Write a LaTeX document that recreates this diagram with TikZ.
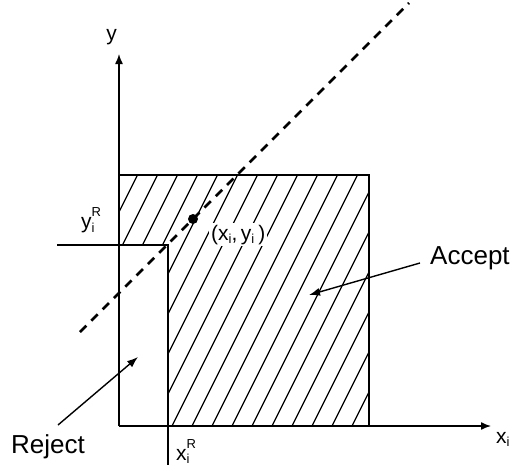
\documentclass[tikz,border=0pt]{standalone}
\usepackage{fontspec}
\setmainfont{Liberation Sans}
\usetikzlibrary{arrows.meta}
\newcommand{\smallfnt}{\fontsize{13}{13}\selectfont}
\newcommand{\lblsub}[2]{#1\raisebox{-3.5pt}{\smallfnt #2}}
\newcommand{\lblboth}[3]{#1\makebox[0pt][l]{\raisebox{-3.5pt}{\smallfnt #2}}\raisebox{12pt}{\smallfnt #3}}
\tikzset{
  axis/.style={line width=1.4pt,-{Latex[length=10pt,width=8pt]}},
  edge/.style={line width=1.4pt},
  hatch/.style={line width=1.2pt},
  guess/.style={line width=2.8pt,dash pattern=on 9pt off 7pt},
  pointer/.style={line width=1.4pt,-{Latex[length=11pt,width=8pt]}},
  lab/.style={font=\fontsize{21}{25}\selectfont,inner sep=0pt},
  big/.style={font=\fontsize{26}{30}\selectfont,inner sep=0pt}
}
\begin{document}
\begin{tikzpicture}[x=1pt,y=-1pt]
\useasboundingbox (0,0) rectangle (514,471);
% key coordinates
\coordinate (O) at (119,426);
\coordinate (ytip) at (119,54);
\coordinate (xtip) at (491,426);
\coordinate (TL) at (119,175);
\coordinate (TR) at (369,175);
\coordinate (BR) at (369,426);
\coordinate (C) at (168,245);
\coordinate (yRl) at (57,245);
\coordinate (xRb) at (168,465);
\coordinate (dA) at (80,332);
\coordinate (dB) at (409,3);
% hatching
\begin{scope}
\clip (TL) -- (TR) -- (BR) -- (168,426) -- (C) -- (119,245) -- cycle;
\foreach \c in {-10,10,...,370} \draw[hatch] (\c,430) -- ++(135,-270);
\end{scope}
% point label with white background
\node[lab,fill=white,inner xsep=2pt,inner ysep=2pt,anchor=base west] (pl) at (209,240)
  {(\lblsub{x}{i},\,\lblsub{y}{i}\hspace{4pt})};
% outlines
\draw[edge] (TL) -- (TR) -- (BR);
\draw[edge] (yRl) -- (C) -- (xRb);
\draw[axis] (O) -- (ytip);
\draw[axis] (O) -- (xtip);
% dashed line and point
\draw[guess] (dA) -- (dB);
\node[circle,fill=black,inner sep=0pt,minimum size=10pt] (pt) at (193,219) {};
% labels
\node[lab,anchor=base] (ylab) at (111.5,40.5) {y};
\node[lab,anchor=base west] (xlab) at (496,443) {\lblsub{x}{i}};
\node[lab,anchor=base west] (yR) at (81,228.5) {\lblboth{y}{i}{R}};
\node[lab,anchor=base west] (xR) at (176,460) {\lblboth{x}{i}{R}};
\node[big,anchor=base west] (acc) at (430,264) {Accept};
\node[big,anchor=base west] (rej) at (11,453) {Reject};
% pointers
\coordinate (accT) at (420,263);
\coordinate (accH) at (309,295);
\coordinate (rejT) at (58,425);
\coordinate (rejH) at (138,357);
\draw[pointer] (accT) -- (accH);
\draw[pointer] (rejT) -- (rejH);
\end{tikzpicture}
\end{document}
